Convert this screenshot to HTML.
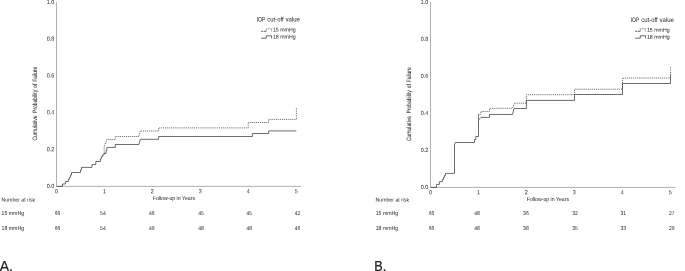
<!DOCTYPE html>
<html><head><meta charset="utf-8"><title>Figure</title>
<style>
html,body{margin:0;padding:0;background:#fff;}
svg{display:block;}
text{font-family:"Liberation Sans",sans-serif;fill:#262626;}
.ax{stroke:#b0b0b0;stroke-width:1;fill:none;}
.c18{stroke:#2e2e2e;stroke-width:0.7;fill:none;stroke-linejoin:miter;}
.v15{stroke:#333;stroke-width:0.8;fill:none;stroke-dasharray:1 1.35;}
.c15{stroke:#333;stroke-width:0.75;fill:none;stroke-dasharray:1 0.93;}
</style></head><body>
<svg width="685" height="271" viewBox="0 0 685 271">
<rect width="685" height="271" fill="#fff"/>
<!-- LEFT CHART -->
<g>
<path class="ax" d="M56.5,2.2V186.4H301"/>
<text x="54.3" y="188.0" font-size="6.0" text-anchor="end" textLength="7.5" lengthAdjust="spacingAndGlyphs" transform="rotate(0.06 54.3 188.0)">0.0</text>
<text x="54.3" y="151.18" font-size="6.0" text-anchor="end" textLength="7.5" lengthAdjust="spacingAndGlyphs" transform="rotate(0.06 54.3 151.18)">0.2</text>
<text x="54.3" y="114.36" font-size="6.0" text-anchor="end" textLength="7.5" lengthAdjust="spacingAndGlyphs" transform="rotate(0.06 54.3 114.36)">0.4</text>
<text x="54.3" y="77.54" font-size="6.0" text-anchor="end" textLength="7.5" lengthAdjust="spacingAndGlyphs" transform="rotate(0.06 54.3 77.54)">0.6</text>
<text x="54.3" y="40.72" font-size="6.0" text-anchor="end" textLength="7.5" lengthAdjust="spacingAndGlyphs" transform="rotate(0.06 54.3 40.72)">0.8</text>
<text x="54.3" y="3.9" font-size="6.0" text-anchor="end" textLength="7.5" lengthAdjust="spacingAndGlyphs" transform="rotate(0.06 54.3 3.9)">1.0</text>
<text x="56.4" y="193.2" font-size="6.0" text-anchor="middle" textLength="3.0" lengthAdjust="spacingAndGlyphs" transform="rotate(0.06 56.4 193.2)">0</text>
<text x="104.5" y="193.2" font-size="6.0" text-anchor="middle" textLength="3.0" lengthAdjust="spacingAndGlyphs" transform="rotate(0.06 104.5 193.2)">1</text>
<text x="152.2" y="193.2" font-size="6.0" text-anchor="middle" textLength="3.0" lengthAdjust="spacingAndGlyphs" transform="rotate(0.06 152.2 193.2)">2</text>
<text x="200.2" y="193.2" font-size="6.0" text-anchor="middle" textLength="3.0" lengthAdjust="spacingAndGlyphs" transform="rotate(0.06 200.2 193.2)">3</text>
<text x="248.3" y="193.2" font-size="6.0" text-anchor="middle" textLength="3.0" lengthAdjust="spacingAndGlyphs" transform="rotate(0.06 248.3 193.2)">4</text>
<text x="296.3" y="193.2" font-size="6.0" text-anchor="middle" textLength="3.0" lengthAdjust="spacingAndGlyphs" transform="rotate(0.06 296.3 193.2)">5</text>
<text x="173.9" y="199.95" font-size="5.6" text-anchor="middle" textLength="42.2" lengthAdjust="spacingAndGlyphs" transform="rotate(0.06 173.9 199.95)">Follow-up in Years</text>
<g font-size="6.3" stroke="#262626" stroke-width="0.04" transform="translate(37.0,140.6) rotate(-89.9)"><text x="0" textLength="25.2" lengthAdjust="spacingAndGlyphs">Cumulative</text><text x="27.7" textLength="23.1" lengthAdjust="spacingAndGlyphs">Probability</text><text x="52.9" textLength="4.2" lengthAdjust="spacingAndGlyphs">of</text><text x="58.8" textLength="15.0" lengthAdjust="spacingAndGlyphs">Failure</text></g>
<text x="256.7" y="21.6" font-size="6.5" textLength="8.7" lengthAdjust="spacingAndGlyphs" transform="rotate(0.06 256.7 21.6)">IOP</text>
<text x="267.2" y="21.6" font-size="6.5" textLength="16.5" lengthAdjust="spacingAndGlyphs" transform="rotate(0.06 267.2 21.6)">cut-off</text>
<text x="285.5" y="21.6" font-size="6.5" textLength="14.3" lengthAdjust="spacingAndGlyphs" transform="rotate(0.06 285.5 21.6)">value</text>
<text x="272.9" y="31.5" font-size="5.5" textLength="22.7" lengthAdjust="spacingAndGlyphs" transform="rotate(0.06 272.9 31.5)">15 mmHg</text>
<text x="272.9" y="38.5" font-size="5.5" textLength="22.7" lengthAdjust="spacingAndGlyphs" transform="rotate(0.06 272.9 38.5)">18 mmHg</text>
<path class="c15" style="stroke-dasharray:2.2 0.6" d="M261.1,31.3H266.3"/>
<path class="c15" d="M266.3,31.3V28.8H271.6V31.4"/>
<path class="c18" d="M261.1,38.2H266.3V35.8H271.6V38.5"/>
<path class="c18" d="M56.5,186.4H62.5V184H65.4V181.5H68.4V179.3H69.5V177.2H70.5V175H71.5V172.5H80.5V170H81.5V167.4H92V164.5H95.8V161.5H100.4V159H101.3V156.6H102.6V154.8H104V153.4H106.1V150.5H106.8V147.4H115.3V144.5H138.8L140.3,139.3H158.6V136.5H252.4V133.5H268.6V130.9H296.3"/>
<path class="c15" d="M104.2,153.4V146L106.3,141.8L106.8,139.5H115.3V136.5H138.8L140.3,131H158.6V127.9H248.2V122.5H268.6V119.4H296.4"/>
<path class="v15" d="M296.4,108.2V119.4"/>
<text x="1.5" y="201.6" font-size="5.3" textLength="33.6" lengthAdjust="spacingAndGlyphs" transform="rotate(0.06 1.5 201.6)">Number at risk</text>
<text x="1.6" y="215.1" font-size="5.7" textLength="5.7" lengthAdjust="spacingAndGlyphs" transform="rotate(0.06 1.6 215.1)">15</text>
<text x="8.8" y="215.1" font-size="5.7" textLength="15.3" lengthAdjust="spacingAndGlyphs" transform="rotate(0.06 8.8 215.1)">mmHg</text>
<text x="1.6" y="230.0" font-size="5.7" textLength="5.7" lengthAdjust="spacingAndGlyphs" transform="rotate(0.06 1.6 230.0)">18</text>
<text x="8.8" y="230.0" font-size="5.7" textLength="15.3" lengthAdjust="spacingAndGlyphs" transform="rotate(0.06 8.8 230.0)">mmHg</text>
<text x="57.5" y="215.0" font-size="5.6" text-anchor="middle" textLength="5.6" lengthAdjust="spacingAndGlyphs" transform="rotate(0.06 57.5 215.0)">66</text>
<text x="57.5" y="229.95" font-size="5.6" text-anchor="middle" textLength="5.6" lengthAdjust="spacingAndGlyphs" transform="rotate(0.06 57.5 229.95)">66</text>
<text x="102.9" y="215.0" font-size="5.6" text-anchor="middle" textLength="5.6" lengthAdjust="spacingAndGlyphs" transform="rotate(0.06 102.9 215.0)">54</text>
<text x="102.9" y="229.95" font-size="5.6" text-anchor="middle" textLength="5.6" lengthAdjust="spacingAndGlyphs" transform="rotate(0.06 102.9 229.95)">54</text>
<text x="151.8" y="215.0" font-size="5.6" text-anchor="middle" textLength="5.6" lengthAdjust="spacingAndGlyphs" transform="rotate(0.06 151.8 215.0)">46</text>
<text x="151.8" y="229.95" font-size="5.6" text-anchor="middle" textLength="5.6" lengthAdjust="spacingAndGlyphs" transform="rotate(0.06 151.8 229.95)">49</text>
<text x="201" y="215.0" font-size="5.6" text-anchor="middle" textLength="5.6" lengthAdjust="spacingAndGlyphs" transform="rotate(0.06 201 215.0)">45</text>
<text x="201" y="229.95" font-size="5.6" text-anchor="middle" textLength="5.6" lengthAdjust="spacingAndGlyphs" transform="rotate(0.06 201 229.95)">48</text>
<text x="249.2" y="215.0" font-size="5.6" text-anchor="middle" textLength="5.6" lengthAdjust="spacingAndGlyphs" transform="rotate(0.06 249.2 215.0)">45</text>
<text x="249.2" y="229.95" font-size="5.6" text-anchor="middle" textLength="5.6" lengthAdjust="spacingAndGlyphs" transform="rotate(0.06 249.2 229.95)">48</text>
<text x="297.6" y="215.0" font-size="5.6" text-anchor="middle" textLength="5.6" lengthAdjust="spacingAndGlyphs" transform="rotate(0.06 297.6 215.0)">42</text>
<text x="297.6" y="229.95" font-size="5.6" text-anchor="middle" textLength="5.6" lengthAdjust="spacingAndGlyphs" transform="rotate(0.06 297.6 229.95)">46</text>
<text x="-0.3" y="271" font-size="14" fill="#1a1a1a" stroke="#1a1a1a" stroke-width="0.25">A.</text>
</g>
<!-- RIGHT CHART -->
<g>
<path class="ax" d="M430.5,2.2V187.4H675.5"/>
<text x="428.3" y="189.0" font-size="6.0" text-anchor="end" textLength="7.5" lengthAdjust="spacingAndGlyphs" transform="rotate(0.06 428.3 189.0)">0.0</text>
<text x="428.3" y="151.98" font-size="6.0" text-anchor="end" textLength="7.5" lengthAdjust="spacingAndGlyphs" transform="rotate(0.06 428.3 151.98)">0.2</text>
<text x="428.3" y="114.96" font-size="6.0" text-anchor="end" textLength="7.5" lengthAdjust="spacingAndGlyphs" transform="rotate(0.06 428.3 114.96)">0.4</text>
<text x="428.3" y="77.94" font-size="6.0" text-anchor="end" textLength="7.5" lengthAdjust="spacingAndGlyphs" transform="rotate(0.06 428.3 77.94)">0.6</text>
<text x="428.3" y="40.92" font-size="6.0" text-anchor="end" textLength="7.5" lengthAdjust="spacingAndGlyphs" transform="rotate(0.06 428.3 40.92)">0.8</text>
<text x="428.3" y="3.9" font-size="6.0" text-anchor="end" textLength="7.5" lengthAdjust="spacingAndGlyphs" transform="rotate(0.06 428.3 3.9)">1.0</text>
<text x="430.4" y="194.2" font-size="6.0" text-anchor="middle" textLength="3.0" lengthAdjust="spacingAndGlyphs" transform="rotate(0.06 430.4 194.2)">0</text>
<text x="478.5" y="194.2" font-size="6.0" text-anchor="middle" textLength="3.0" lengthAdjust="spacingAndGlyphs" transform="rotate(0.06 478.5 194.2)">1</text>
<text x="526.2" y="194.2" font-size="6.0" text-anchor="middle" textLength="3.0" lengthAdjust="spacingAndGlyphs" transform="rotate(0.06 526.2 194.2)">2</text>
<text x="574.2" y="194.2" font-size="6.0" text-anchor="middle" textLength="3.0" lengthAdjust="spacingAndGlyphs" transform="rotate(0.06 574.2 194.2)">3</text>
<text x="622.3" y="194.2" font-size="6.0" text-anchor="middle" textLength="3.0" lengthAdjust="spacingAndGlyphs" transform="rotate(0.06 622.3 194.2)">4</text>
<text x="670.3" y="194.2" font-size="6.0" text-anchor="middle" textLength="3.0" lengthAdjust="spacingAndGlyphs" transform="rotate(0.06 670.3 194.2)">5</text>
<text x="547.9" y="200.95" font-size="5.6" text-anchor="middle" textLength="42.2" lengthAdjust="spacingAndGlyphs" transform="rotate(0.06 547.9 200.95)">Follow-up in Years</text>
<g font-size="6.3" stroke="#262626" stroke-width="0.04" transform="translate(411.0,141.1) rotate(-89.9)"><text x="0" textLength="25.2" lengthAdjust="spacingAndGlyphs">Cumulative</text><text x="27.7" textLength="23.1" lengthAdjust="spacingAndGlyphs">Probability</text><text x="52.9" textLength="4.2" lengthAdjust="spacingAndGlyphs">of</text><text x="58.8" textLength="15.0" lengthAdjust="spacingAndGlyphs">Failure</text></g>
<text x="630.7" y="22.0" font-size="6.5" textLength="8.7" lengthAdjust="spacingAndGlyphs" transform="rotate(0.06 630.7 22.0)">IOP</text>
<text x="641.2" y="22.0" font-size="6.5" textLength="16.5" lengthAdjust="spacingAndGlyphs" transform="rotate(0.06 641.2 22.0)">cut-off</text>
<text x="659.5" y="22.0" font-size="6.5" textLength="14.3" lengthAdjust="spacingAndGlyphs" transform="rotate(0.06 659.5 22.0)">value</text>
<text x="646.9" y="31.7" font-size="5.5" textLength="22.7" lengthAdjust="spacingAndGlyphs" transform="rotate(0.06 646.9 31.7)">15 mmHg</text>
<text x="646.9" y="38.7" font-size="5.5" textLength="22.7" lengthAdjust="spacingAndGlyphs" transform="rotate(0.06 646.9 38.7)">18 mmHg</text>
<path class="c15" style="stroke-dasharray:2.2 0.6" d="M635.1,31.3H640.3"/>
<path class="c15" d="M640.3,31.3V28.8H645.6V31.4"/>
<path class="c18" d="M635.1,38.2H640.3V35.8H645.6V38.5"/>
<path class="c18" d="M430.5,187.4H436.5V184.4H439.4V181.7H442.4V179.5H443.5V177.3H444.5V175.4H445.5V173.4H454.5V145L455.3,142.5H474.5V139.5H475.8V136.5H478.5V120L481,117.4H489.5V114.45H512.5L514,108.5H526.4V100.4H574.5V94.5H622.5V83.5H670.5V74"/>
<path class="c18" d="M478.5,120.5V114.3" opacity="0.85"/>
<path class="c15" d="M478.5,114.3H481V111.5H489.5V108.3H512.5L514.5,103.2H526.4V94.7H574.5V89.2H622.5V78H670.5"/>
<path class="v15" d="M670.5,67.2V74.2"/>
<text x="375.6" y="201.6" font-size="5.3" textLength="33.6" lengthAdjust="spacingAndGlyphs" transform="rotate(0.06 375.6 201.6)">Number at risk</text>
<text x="375.70000000000005" y="215.1" font-size="5.7" textLength="5.7" lengthAdjust="spacingAndGlyphs" transform="rotate(0.06 375.70000000000005 215.1)">15</text>
<text x="382.9" y="215.1" font-size="5.7" textLength="15.3" lengthAdjust="spacingAndGlyphs" transform="rotate(0.06 382.9 215.1)">mmHg</text>
<text x="375.70000000000005" y="230.0" font-size="5.7" textLength="5.7" lengthAdjust="spacingAndGlyphs" transform="rotate(0.06 375.70000000000005 230.0)">18</text>
<text x="382.9" y="230.0" font-size="5.7" textLength="15.3" lengthAdjust="spacingAndGlyphs" transform="rotate(0.06 382.9 230.0)">mmHg</text>
<text x="431.6" y="215.0" font-size="5.6" text-anchor="middle" textLength="5.6" lengthAdjust="spacingAndGlyphs" transform="rotate(0.06 431.6 215.0)">66</text>
<text x="431.6" y="229.95" font-size="5.6" text-anchor="middle" textLength="5.6" lengthAdjust="spacingAndGlyphs" transform="rotate(0.06 431.6 229.95)">66</text>
<text x="477.0" y="215.0" font-size="5.6" text-anchor="middle" textLength="5.6" lengthAdjust="spacingAndGlyphs" transform="rotate(0.06 477.0 215.0)">48</text>
<text x="477.0" y="229.95" font-size="5.6" text-anchor="middle" textLength="5.6" lengthAdjust="spacingAndGlyphs" transform="rotate(0.06 477.0 229.95)">48</text>
<text x="525.9" y="215.0" font-size="5.6" text-anchor="middle" textLength="5.6" lengthAdjust="spacingAndGlyphs" transform="rotate(0.06 525.9 215.0)">36</text>
<text x="525.9" y="229.95" font-size="5.6" text-anchor="middle" textLength="5.6" lengthAdjust="spacingAndGlyphs" transform="rotate(0.06 525.9 229.95)">38</text>
<text x="575.1" y="215.0" font-size="5.6" text-anchor="middle" textLength="5.6" lengthAdjust="spacingAndGlyphs" transform="rotate(0.06 575.1 215.0)">32</text>
<text x="575.1" y="229.95" font-size="5.6" text-anchor="middle" textLength="5.6" lengthAdjust="spacingAndGlyphs" transform="rotate(0.06 575.1 229.95)">35</text>
<text x="623.3" y="215.0" font-size="5.6" text-anchor="middle" textLength="5.6" lengthAdjust="spacingAndGlyphs" transform="rotate(0.06 623.3 215.0)">31</text>
<text x="623.3" y="229.95" font-size="5.6" text-anchor="middle" textLength="5.6" lengthAdjust="spacingAndGlyphs" transform="rotate(0.06 623.3 229.95)">33</text>
<text x="671.7" y="215.0" font-size="5.6" text-anchor="middle" textLength="5.6" lengthAdjust="spacingAndGlyphs" transform="rotate(0.06 671.7 215.0)">27</text>
<text x="671.7" y="229.95" font-size="5.6" text-anchor="middle" textLength="5.6" lengthAdjust="spacingAndGlyphs" transform="rotate(0.06 671.7 229.95)">29</text>
<text x="374.3" y="271" font-size="14" fill="#1a1a1a" stroke="#1a1a1a" stroke-width="0.25" textLength="12" lengthAdjust="spacingAndGlyphs">B.</text>
</g>
</svg>
</body></html>
